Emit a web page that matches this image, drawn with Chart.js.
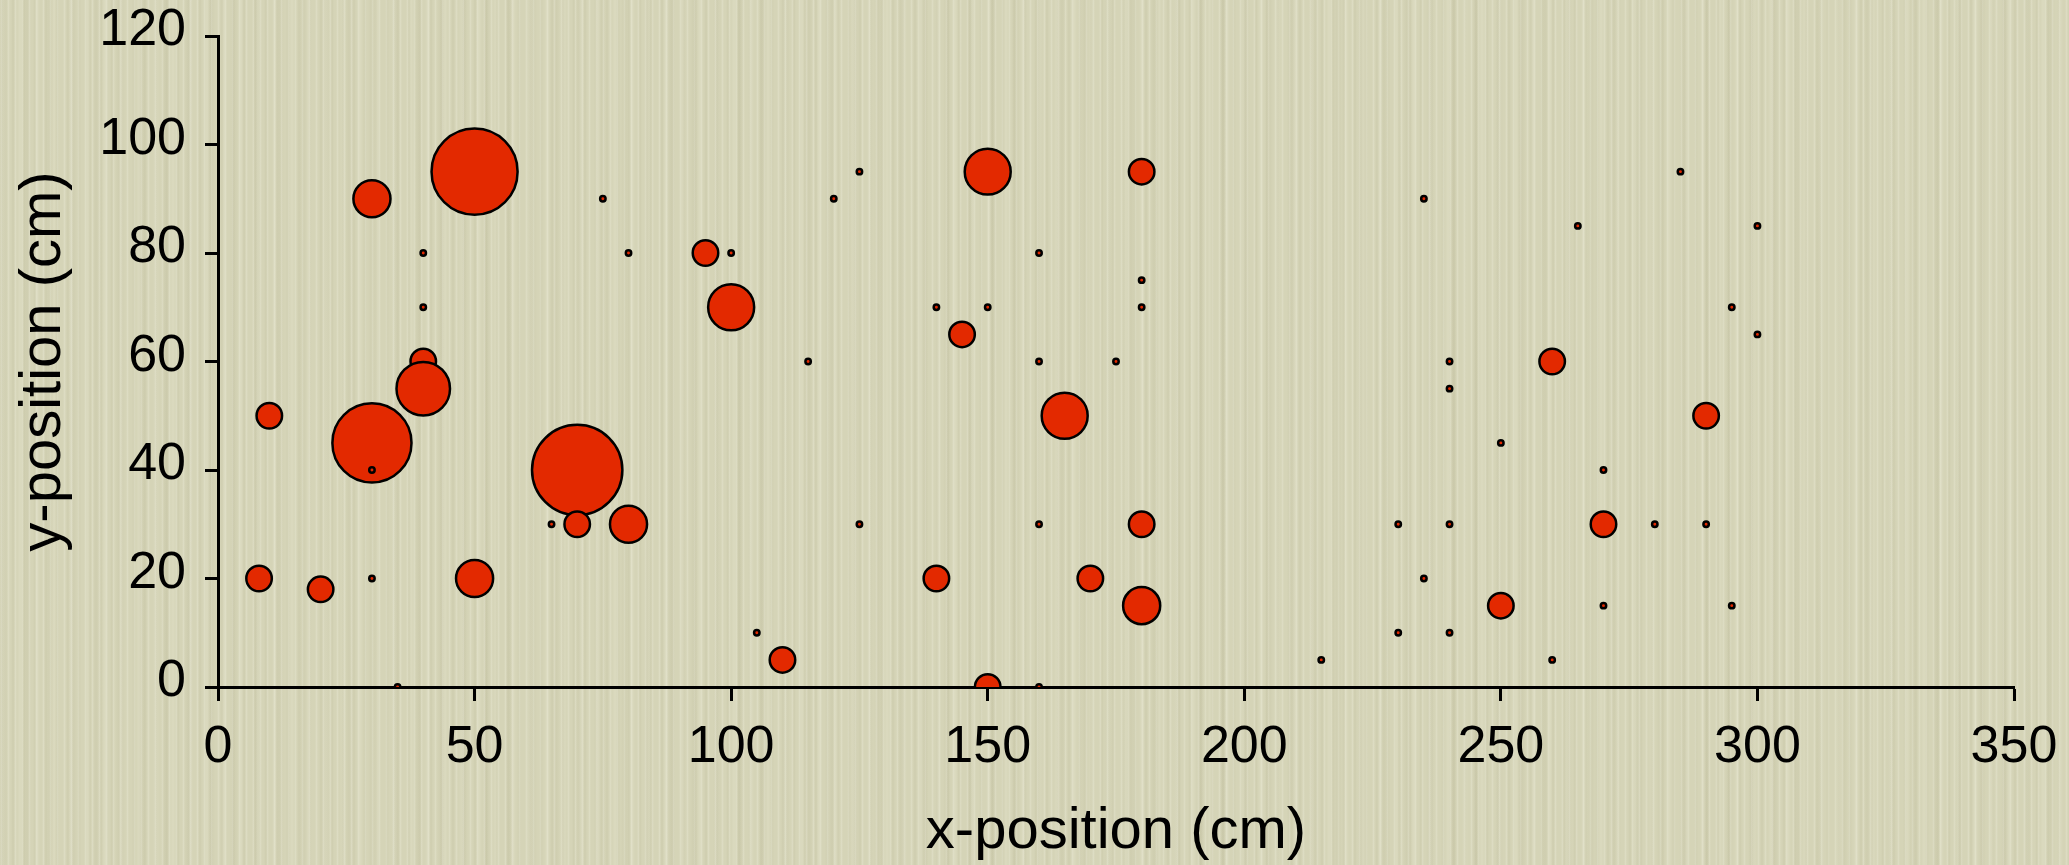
<!DOCTYPE html>
<html>
<head>
<meta charset="utf-8">
<title>Bubble positions</title>
<script src="https://cdn.jsdelivr.net/npm/chart.js@4.4.1/dist/chart.umd.min.js"></script>
<style>
  html, body { margin: 0; padding: 0; width: 2069px; height: 865px; overflow: hidden; }
  body {
    background:
      repeating-linear-gradient(90deg, rgba(255,255,245,0) 0px, rgba(255,255,245,.18) 1.5px, rgba(255,255,245,0) 3px, rgba(255,255,245,0) 7px),
      repeating-linear-gradient(90deg, rgba(120,115,70,0) 0px, rgba(120,115,70,.07) 2px, rgba(120,115,70,0) 4px, rgba(120,115,70,0) 11px),
      repeating-linear-gradient(90deg, rgba(255,255,240,0) 0px, rgba(255,255,240,.14) 3px, rgba(255,255,240,0) 6px, rgba(255,255,240,0) 17px),
      repeating-linear-gradient(90deg, rgba(110,105,60,0) 0px, rgba(110,105,60,.06) 4px, rgba(110,105,60,0) 8px, rgba(110,105,60,0) 23px),
      #d5d4b7;
  }
  canvas { display: block; }
</style>
</head>
<body>
<canvas id="chart" width="2069" height="865"></canvas>
<script>
// Bubble positions (cm) and relative bubble sizes (area-proportional)
const xPos = [8, 10, 20, 30, 30, 30, 30, 35, 40, 40, 40, 40, 50, 50, 65, 70, 70, 75, 80, 80,
              95, 100, 100, 105, 110, 115, 120, 125, 125, 140, 140, 145, 150, 150, 150, 160, 160, 160, 160, 165,
              170, 175, 180, 180, 180, 180, 180, 215, 230, 230, 235, 235, 240, 240, 240, 240, 250, 250, 260, 260,
              265, 270, 270, 270, 280, 285, 290, 290, 295, 295, 300, 300];
const yPos = [20, 50, 18, 90, 45, 40, 20, 0, 80, 70, 60, 55, 95, 20, 30, 40, 30, 90, 80, 30,
              80, 80, 70, 10, 5, 60, 90, 95, 30, 70, 20, 65, 95, 70, 0, 80, 60, 30, 0, 50,
              20, 60, 95, 75, 70, 30, 15, 5, 30, 10, 90, 20, 60, 55, 30, 10, 45, 15, 60, 5,
              85, 40, 30, 15, 30, 95, 50, 30, 70, 15, 85, 65];
const sizes = [1, 1, 1, 2, 8.5, 0.08, 0.08, 0.08, 0.08, 0.08, 1, 4, 10, 2, 0.08, 11, 1, 0.08, 0.08, 2,
               1, 0.08, 3, 0.08, 1, 0.08, 0.08, 0.08, 0.08, 0.08, 1, 1, 3, 0.08, 1, 0.08, 0.08, 0.08, 0.08, 3,
               1, 0.08, 1, 0.08, 0.08, 1, 2, 0.08, 0.08, 0.08, 0.08, 0.08, 0.08, 0.08, 0.08, 0.08, 0.08, 1, 1, 0.08,
               0.08, 0.08, 1, 0.08, 0.08, 0.08, 1, 0.08, 0.08, 0.08, 0.08, 0.08];

const xTicks = [0, 50, 100, 150, 200, 250, 300, 350];
const yTicks = [0, 20, 40, 60, 80, 100, 120];

const BORDER = 2.5;
const UNIT_RADIUS = 14; // outer radius of a size-1 bubble, px

const points = xPos.map((x, i) => ({
  x: x,
  y: yPos[i],
  r: Math.max(UNIT_RADIUS * Math.sqrt(sizes[i]) - BORDER / 2, 1)
}));

const FONT = '"Liberation Sans", Arial, Helvetica, sans-serif';

new Chart(document.getElementById('chart'), {
  type: 'bubble',
  data: {
    datasets: [{
      data: points,
      backgroundColor: '#e32900',
      borderColor: '#000000',
      borderWidth: BORDER,
      hoverBorderWidth: BORDER,
      clip: 0
    }]
  },
  options: {
    responsive: false,
    animation: false,
    events: [],
    layout: { autoPadding: false, padding: { left: 0, right: 55, top: 36, bottom: 0 } },
    plugins: { legend: { display: false }, tooltip: { enabled: false } },
    scales: {
      x: {
        type: 'linear',
        min: 0, max: 350,
        z: 1,
        afterBuildTicks: s => { s.ticks = xTicks.map(v => ({ value: v })); },
        afterFit: s => { s.height = 178; s.paddingLeft = 0; s.paddingRight = 0; },
        border: { display: true, color: '#000', width: 3 },
        grid: { drawOnChartArea: false, drawTicks: true, tickLength: 14, tickWidth: 3, tickColor: '#000' },
        ticks: { color: '#000', padding: 15, maxRotation: 0, font: { family: FONT, size: 52 } },
        title: {
          display: true, text: 'x-position (cm)', color: '#000',
          font: { family: FONT, size: 58, lineHeight: 1 },
          padding: { top: 0, bottom: 4 }
        }
      },
      y: {
        type: 'linear',
        min: 0, max: 120,
        z: 1,
        afterBuildTicks: s => { s.ticks = yTicks.map(v => ({ value: v })); },
        afterFit: s => { s.width = 218; s.paddingTop = 0; s.paddingBottom = 0; },
        border: { display: true, color: '#000', width: 3 },
        grid: { drawOnChartArea: false, drawTicks: true, tickLength: 13, tickWidth: 3, tickColor: '#000' },
        ticks: { color: '#000', padding: 19, labelOffset: -5, font: { family: FONT, size: 52 } },
        title: {
          display: true, text: 'y-position (cm)', color: '#000',
          font: { family: FONT, size: 58, lineHeight: 1 },
          padding: { top: 15, bottom: 0 }
        }
      }
    }
  }
});
</script>
</body>
</html>
